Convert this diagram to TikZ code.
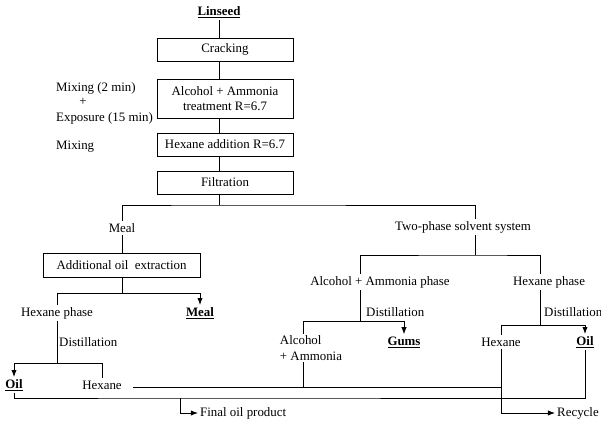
\documentclass[tikz,border=0pt]{standalone}
\usepackage{fontspec}
\setmainfont{Liberation Serif}
\usetikzlibrary{arrows.meta}

\tikzset{
    stage/.style={draw, line width=0.8pt, minimum width=4.08cm, minimum height=0.69cm, inner sep=1pt},
    lbl/.style={inner sep=1.5pt},
    flow/.style={-{Latex[length=6pt,width=4.5pt]}},
}

\begin{document}
\begin{tikzpicture}[x=0.03cm, y=-0.03cm, line width=0.8pt, font=\fontsize{11}{13}\selectfont]

        \useasboundingbox (0,0) rectangle (601,422);

        % main line
        \node[lbl] (linseed) at (219,12) {\textbf{\underline{Linseed}}};
        \node[stage] (crack) at (225,49.5) {Cracking};
        \node[stage, minimum height=1.17cm, align=center] (treat) at (225,98.5) {Alcohol + Ammonia\\treatment R=6.7};
        \node[stage] (hexadd) at (225,144.5) {Hexane addition R=6.7};
        \node[stage] (filt) at (225,182.5) {Filtration};

        \node[lbl, anchor=west] (mix1) at (54,88) {Mixing (2 min)};
        \node[lbl] (plus) at (83,102) {+};
        \node[lbl, anchor=west] (expo) at (54,118) {Exposure (15 min)};
        \node[lbl, anchor=west] (mix2) at (54,147) {Mixing};

        \draw (linseed.south) -- (crack.north -| linseed);
        \draw (crack.south -| linseed) -- (treat.north -| linseed);
        \draw (treat.south -| linseed) -- (hexadd.north -| linseed);
        \draw (hexadd.south -| linseed) -- (filt.north -| linseed);

        % meal branch
        \coordinate (s1) at (219,205);
        \coordinate (tpx) at (475,234);
        \node[lbl] (meal1) at (122,228) {Meal};
        \node[lbl] (twophase) at (463,227) {Two-phase solvent system};
        \draw (filt.south -| s1) -- (s1);
        \draw (meal1.north) |- (s1) -| (tpx |- twophase.north);

        \node[stage, minimum width=4.71cm, minimum height=0.72cm] (extract) at (121.5,265) {Additional oil\ \ extraction};
        \draw (meal1.south) -- (extract.north -| meal1);

        \coordinate (s2) at (122,293);
        \node[lbl] (hexph1) at (57,313) {Hexane phase};
        \node[lbl] (meal2) at (200,313) {\textbf{\underline{Meal}}};
        \draw (extract.south -| s2) -- (s2);
        \draw (hexph1.north) |- (s2);
        \draw[flow] (s2) -| (meal2.north);

        \coordinate (s3) at (57,363);
        \node[lbl, anchor=west] (dist1) at (57,342) {Distillation};
        \node[lbl] (oil1) at (14,385) {\textbf{\underline{Oil}}};
        \node[lbl] (hexane1) at (102,385) {Hexane};
        \draw (hexph1.south) -- (s3);
        \draw[flow] (s3) -| (oil1.north);
        \draw (s3) -| (hexane1.north);

        % two-phase branch
        \coordinate (s4) at (475,255);
        \coordinate (aax) at (360,0);
        \coordinate (hpx) at (540,0);
        \node[lbl] (aa1) at (380,282) {Alcohol + Ammonia phase};
        \node[lbl] (hexph2) at (549,282) {Hexane phase};
        \draw (tpx |- twophase.south) -- (s4);
        \draw (aax |- aa1.north) |- (s4) -| (hpx |- hexph2.north);

        \coordinate (s5) at (360,321);
        \node[lbl, anchor=west] (dist2) at (364,312) {Distillation};
        \node[lbl, align=left] (aa2) at (311,348) {Alcohol\\+ Ammonia};
        \node[lbl] (gums) at (404,342) {\textbf{\underline{Gums}}};
        \draw (aax |- aa1.south) -- (s5);
        \draw (s5) -| (303,0 |- aa2.north);
        \draw[flow] (s5) -| (gums.north);

        \coordinate (s6) at (540,325);
        \node[lbl, anchor=west] (dist3) at (542,312) {Distillation};
        \node[lbl] (hexane2) at (501,342) {Hexane};
        \node[lbl] (oil2) at (585,342) {\textbf{\underline{Oil}}};
        \draw (hpx |- hexph2.south) -- (s6);
        \draw (s6) -| (hexane2.north);
        \draw[flow] (s6) -| (oil2.north);

        % collecting lines
        \coordinate (r1) at (501,387);
        \coordinate (f1) at (180,398);
        \node[lbl, anchor=west] (final) at (198,413) {Final oil product};
        \node[lbl, anchor=west] (recycle) at (555,413) {Recycle};
        \draw (hexane1.east |- r1) ++(9,0) -- (r1);
        \draw (303,0 |- aa2.south) -- (303,387);
        \draw (oil1.south) |- (f1) -| (oil2.south);
        \draw[flow] (f1) |- (final.west);
        \draw[flow] (hexane2.south) |- (recycle.west);

\end{tikzpicture}
\end{document}
